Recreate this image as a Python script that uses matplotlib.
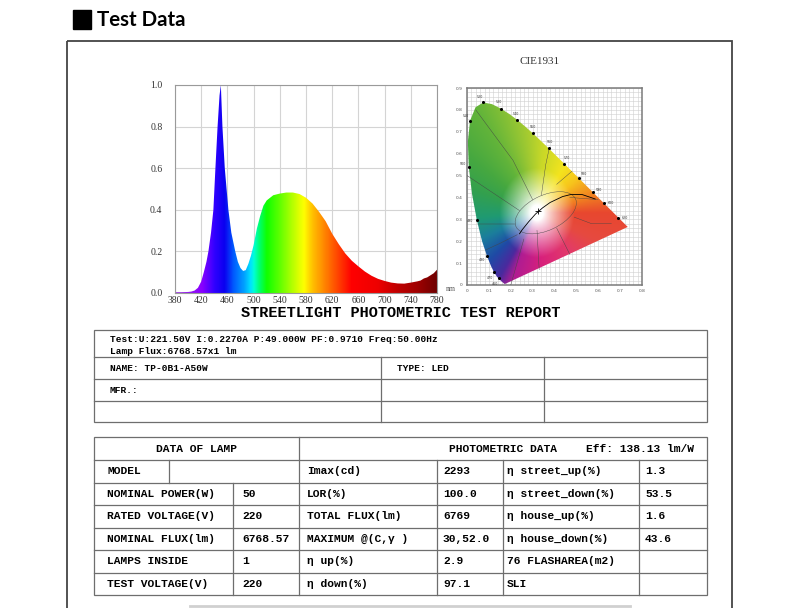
import numpy as np
import matplotlib
matplotlib.use("Agg")
import matplotlib.pyplot as plt
from matplotlib.colors import LinearSegmentedColormap, to_rgb
from matplotlib.patches import Rectangle, Polygon, Ellipse

# relative spectral power
wavelength = [380, 390, 400, 405, 410, 415, 420, 424, 428, 431, 435, 438.6, 441.7, 445, 448,
              450, 452.4, 456, 461.5, 466, 472, 476, 480, 484, 488, 492, 496, 500, 505, 510,
              515, 520, 530, 540, 550, 560, 570, 580, 590, 600, 610, 620, 630, 640, 650, 660,
              670, 680, 690, 700, 710, 720, 730, 740, 750, 755, 760, 765, 770, 775, 780]
intensity = [0.004, 0.004, 0.005, 0.007, 0.012, 0.025, 0.055, 0.10, 0.15, 0.20, 0.29, 0.40, 0.60,
             0.80, 0.95, 1.00, 0.80, 0.60, 0.40, 0.29, 0.20, 0.15, 0.12, 0.106, 0.11, 0.14, 0.18,
             0.23, 0.31, 0.37, 0.42, 0.445, 0.47, 0.478, 0.483, 0.483, 0.476, 0.458, 0.43, 0.39,
             0.345, 0.285, 0.235, 0.19, 0.155, 0.128, 0.103, 0.083, 0.068, 0.058, 0.05, 0.046,
             0.045, 0.05, 0.056, 0.06, 0.07, 0.075, 0.085, 0.095, 0.112]

# CIE 1931 spectral locus (x, y)
locus_nm = [380, 420, 440, 450, 460, 465, 470, 475, 480, 485, 490, 495, 500, 505, 510, 515,
            520, 525, 530, 535, 540, 545, 550, 555, 560, 565, 570, 575, 580, 585, 590, 595,
            600, 610, 620, 630, 640, 650, 660, 680, 700]
locus_x = [0.1741, 0.1714, 0.1644, 0.1566, 0.1440, 0.1355, 0.1241, 0.1096, 0.0913, 0.0687,
           0.0454, 0.0235, 0.0082, 0.0039, 0.0139, 0.0389, 0.0743, 0.1142, 0.1547, 0.1929,
           0.2296, 0.2658, 0.3016, 0.3373, 0.3731, 0.4087, 0.4441, 0.4788, 0.5125, 0.5448,
           0.5752, 0.6029, 0.6270, 0.6658, 0.6915, 0.7079, 0.7190, 0.7260, 0.7300, 0.7334, 0.7347]
locus_y = [0.0050, 0.0051, 0.0109, 0.0177, 0.0297, 0.0399, 0.0578, 0.0868, 0.1327, 0.2007,
           0.2950, 0.4127, 0.5384, 0.6548, 0.7502, 0.8120, 0.8338, 0.8262, 0.8059, 0.7816,
           0.7543, 0.7243, 0.6923, 0.6589, 0.6245, 0.5896, 0.5547, 0.5202, 0.4866, 0.4544,
           0.4242, 0.3965, 0.3725, 0.3340, 0.3083, 0.2920, 0.2809, 0.2740, 0.2700, 0.2666, 0.2653]
locus_marked = [460, 470, 480, 490, 500, 510, 520, 530, 540, 550, 560, 570, 580, 590, 600, 620]

planck_x = [0.240, 0.252, 0.281, 0.313, 0.345, 0.380, 0.437, 0.477, 0.527, 0.586]
planck_y = [0.234, 0.252, 0.288, 0.324, 0.352, 0.377, 0.404, 0.414, 0.413, 0.393]
test_x, test_y = 0.326, 0.337

# colour-name region borders drawn on the chart
region_lines = [
    [(0.30, 0.39), (0.21, 0.57), (0.04, 0.80)],
    [(0.34, 0.41), (0.36, 0.55), (0.375, 0.62)],
    [(0.41, 0.46), (0.48, 0.52)],
    [(0.24, 0.34), (0.12, 0.42), (0.0, 0.50)],
    [(0.22, 0.28), (0.12, 0.28), (0.05, 0.28)],
    [(0.23, 0.23), (0.15, 0.19), (0.085, 0.16)],
    [(0.26, 0.21), (0.20, 0.0)],
    [(0.32, 0.25), (0.33, 0.07)],
    [(0.41, 0.26), (0.47, 0.14)],
    [(0.49, 0.31), (0.57, 0.28), (0.66, 0.28)],
    [(0.47, 0.40), (0.60, 0.39)],
]

# report texts
test_line = "Test:U:221.50V I:0.2270A P:49.000W PF:0.9710 Freq:50.00Hz"
flux_line = "Lamp Flux:6768.57x1 lm"
name_text = "NAME: TP-0B1-A50W"
type_text = "TYPE: LED"
mfr_text = "MFR.:"

lamp_labels = ["MODEL", "NOMINAL POWER(W)", "RATED VOLTAGE(V)", "NOMINAL FLUX(lm)",
               "LAMPS INSIDE", "TEST VOLTAGE(V)"]
lamp_values = ["", "50", "220", "6768.57", "1", "220"]
photo_labels = ["Imax(cd)", "LOR(%)", "TOTAL FLUX(lm)", "MAXIMUM @(C,γ )", "η up(%)", "η down(%)"]
photo_values = ["2293", "100.0", "6769", "30,52.0", "2.9", "97.1"]
eta_labels = ["η street_up(%)", "η street_down(%)", "η house_up(%)", "η house_down(%)",
              "76 FLASHAREA(m2)", "SLI"]
eta_values = ["1.3", "53.5", "1.6", "43.6", "", ""]

W, H = 786, 608
fig = plt.figure(figsize=(W / 100, H / 100), dpi=100)
bg = fig.add_axes([0, 0, 1, 1])
bg.set_xlim(0, W)
bg.set_ylim(H, 0)
bg.axis('off')


def px_axes(l, t, r, b):
    return fig.add_axes([l / W, 1 - b / H, (r - l) / W, (b - t) / H])


mono = 'Liberation Mono'
line_c = '#6e6e6e'

# header
bg.add_patch(Rectangle((73, 10), 18, 19, color='black'))
bg.text(97, 20, "Test Data", fontsize=14.8, fontweight='bold', family='Lato', va='center')
bg.add_patch(Rectangle((67, 41), 665, 600, fill=False, ec='#444444', lw=1.3))

# spectrum
spec_cmap = LinearSegmentedColormap.from_list('spec', [
    (0.0, '#9a30e0'), (40 / 400, '#8a00ff'), (60 / 400, '#3000ff'), (75 / 400, '#0a00f0'),
    (90 / 400, '#0060ff'), (105 / 400, '#00a0ff'), (115 / 400, '#00e0ff'), (120 / 400, '#00ffd8'),
    (130 / 400, '#00ff60'), (140 / 400, '#10ff00'), (160 / 400, '#60ff00'), (180 / 400, '#b8ff00'),
    (197 / 400, '#ffff00'), (210 / 400, '#ffc000'), (230 / 400, '#ff8000'), (250 / 400, '#ff4000'),
    (270 / 400, '#ff0000'), (310 / 400, '#ee0000'), (340 / 400, '#c00000'), (370 / 400, '#a00000'),
    (1.0, '#700000')])

ax = px_axes(175, 85, 437, 293)
band = ax.fill_between(wavelength, 0, intensity, color='none', lw=0)
grad = np.linspace(380, 780, 800).reshape(1, -1)
im = ax.imshow(grad, extent=[380, 780, 0, 1], aspect='auto', cmap=spec_cmap,
               vmin=380, vmax=780, origin='lower', zorder=2)
im.set_clip_path(band.get_paths()[0], transform=ax.transData)
ax.set_xlim(380, 780)
ax.set_ylim(0, 1)
ax.set_xticks(np.arange(380, 781, 40))
ax.set_yticks(np.arange(0, 1.01, 0.2))
ax.set_yticklabels([f"{v:.1f}" for v in np.arange(0, 1.01, 0.2)])
ax.grid(color='#d4d4d4', lw=0.8)
ax.set_axisbelow(True)
ax.tick_params(length=0, labelsize=7, labelcolor='#333333')
ax.tick_params(axis='y', pad=9)
ax.tick_params(axis='x', pad=2)
for lab in ax.get_xticklabels() + ax.get_yticklabels():
    lab.set_family('Liberation Serif')
for s in ax.spines.values():
    s.set_color('#9a9a9a')
    s.set_lw(0.8)
bg.text(446, 289, "nm", fontsize=5.5, family='Liberation Serif', color='#555555', va='center')

# CIE 1931 diagram, coloured by hue around the white point
bg.text(540, 62, "CIE1931", fontsize=8, family='Liberation Serif', color='#333333',
        ha='center', va='center')
hue_deg = [0, 15, 40, 60, 85, 100, 120, 140, 160, 185, 205, 225, 240, 250, 275, 310, 335, 360]
hue_col = ['#e8472f', '#f07a22', '#f7c41c', '#f4e41e', '#c8d828', '#9cc832', '#62b43a',
           '#46a840', '#33a04e', '#1f9a72', '#1b7e9c', '#1f4aa6', '#4a2a9e', '#b01c92',
           '#d8207c', '#e23a6a', '#e64a40', '#e8472f']
hue_rgb = np.array([to_rgb(c) for c in hue_col])

cx = px_axes(467, 88, 642, 285)
gx, gy = np.meshgrid(np.linspace(0, 0.8, 400), np.linspace(0, 0.9, 450))
wx, wy = 0.32, 0.33
ang = np.degrees(np.arctan2(gy - wy, gx - wx)) % 360
dist = np.hypot((gx - wx) * 1.2, gy - wy)
sat = np.clip((dist - 0.035) / 0.17, 0, 1) ** 0.85
rgb = np.dstack([np.interp(ang, hue_deg, hue_rgb[:, k]) for k in range(3)])
rgb = (1 - sat[..., None]) + sat[..., None] * rgb
cie = cx.imshow(rgb, extent=[0, 0.8, 0, 0.9], origin='lower', aspect='auto',
                interpolation='bilinear', zorder=2)
cie.set_clip_path(Polygon(list(zip(locus_x, locus_y)), closed=True, transform=cx.transData))
cx.add_patch(Ellipse((0.36, 0.33), 0.30, 0.16, angle=25, fill=False, ec='#444444', lw=0.3,
                     zorder=3))
for seg in region_lines:
    sx, sy = zip(*seg)
    cx.plot(sx, sy, color='#444444', lw=0.3, zorder=3)
cx.plot(planck_x, planck_y, color='black', lw=0.6, zorder=3)
cx.plot(test_x, test_y, marker='+', color='black', ms=5, mew=0.6, zorder=4)
mx = [locus_x[locus_nm.index(n)] for n in locus_marked]
my = [locus_y[locus_nm.index(n)] for n in locus_marked]
cx.scatter(mx, my, s=1.5, color='black', zorder=4)
for n, x, y in zip(locus_marked, mx, my):
    dx, dy = x - 0.33, y - 0.33
    d = np.hypot(dx, dy)
    cx.text(x + 0.03 * dx / d, y + 0.03 * dy / d, str(n), fontsize=2.3, color='#333333',
            ha='center', va='center', zorder=4)
cx.set_xlim(0, 0.8)
cx.set_ylim(0, 0.9)
cx.set_xticks(np.arange(0, 0.81, 0.1))
cx.set_yticks(np.arange(0, 0.91, 0.1))
cx.set_xticklabels(['0'] + [f"{v:.1f}" for v in np.arange(0.1, 0.81, 0.1)])
cx.set_yticklabels(['0'] + [f"{v:.1f}" for v in np.arange(0.1, 0.91, 0.1)])
cx.set_xticks(np.arange(0, 0.81, 0.02), minor=True)
cx.set_yticks(np.arange(0, 0.91, 0.02), minor=True)
cx.grid(which='both', color='#cfcfcf', lw=0.4)
cx.set_axisbelow(True)
cx.tick_params(which='both', length=0, labelsize=3.2, labelcolor='#555555', pad=3)
for s in cx.spines.values():
    s.set_color('#7a7a7a')
    s.set_lw(1.1)

bg.text(401, 313, "STREETLIGHT PHOTOMETRIC TEST REPORT", family=mono, fontweight='bold',
        fontsize=11, ha='center', va='center')

# table 1
bg.add_patch(Rectangle((94, 330), 613, 92, fill=False, ec=line_c, lw=0.9))
for y in [357, 379, 401]:
    bg.plot([94, 707], [y, y], color=line_c, lw=0.9)
for x in [381, 544]:
    bg.plot([x, x], [357, 422], color=line_c, lw=0.9)
t1 = dict(family=mono, fontweight='bold', fontsize=6.8, va='center')
bg.text(110, 340, test_line, **t1)
bg.text(110, 351, flux_line, **t1)
bg.text(110, 368.5, name_text, **t1)
bg.text(397, 368.5, type_text, **t1)
bg.text(110, 390.5, mfr_text, **t1)

# table 2
top, head_b, row_h = 437, 460, 22.5
bottom = head_b + 6 * row_h
bg.add_patch(Rectangle((94, top), 613, bottom - top, fill=False, ec=line_c, lw=0.9))
bg.plot([94, 707], [head_b, head_b], color=line_c, lw=0.9)
for i in range(1, 6):
    y = head_b + i * row_h
    bg.plot([94, 707], [y, y], color=line_c, lw=0.9)
bg.plot([299, 299], [top, bottom], color=line_c, lw=0.9)
bg.plot([169, 169], [head_b, head_b + row_h], color=line_c, lw=0.9)
bg.plot([233, 233], [head_b + row_h, bottom], color=line_c, lw=0.9)
for x in [437, 503, 639]:
    bg.plot([x, x], [head_b, bottom], color=line_c, lw=0.9)

t2 = dict(family=mono, fontweight='bold', fontsize=8.1, va='center')
bg.text(197, 449, "DATA OF LAMP", ha='center', **t2)
bg.text(449, 449, "PHOTOMETRIC DATA", **t2)
bg.text(586, 449, "Eff: 138.13 lm/W", **t2)
for i in range(6):
    y = head_b + (i + 0.5) * row_h
    bg.text(107, y, lamp_labels[i], **t2)
    bg.text(242, y, lamp_values[i], **t2)
    bg.text(307, y, photo_labels[i], **t2)
    bg.text(443, y, photo_values[i], **t2)
    bg.text(507, y, eta_labels[i], **t2)
    bg.text(645, y, eta_values[i], **t2)

bg.plot([190, 630], [606, 606], color='#d0d0d0', lw=2)

fig.savefig('out.png', dpi=100)
